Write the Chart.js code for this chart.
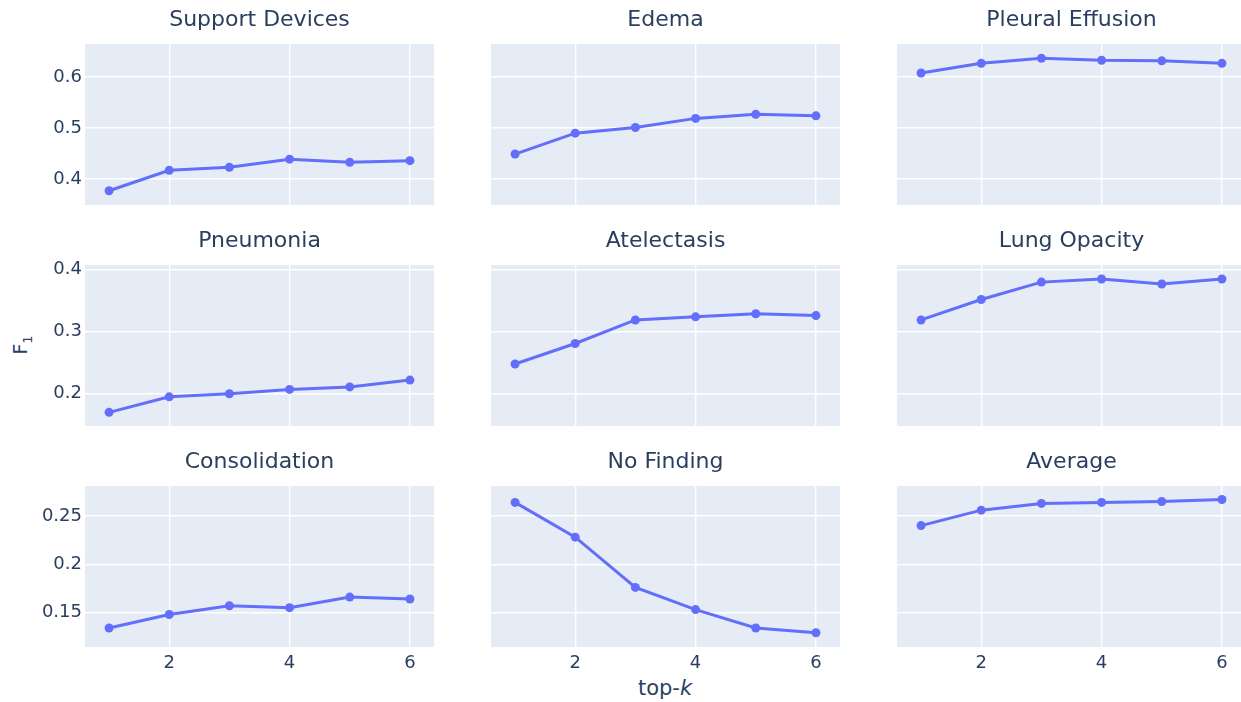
<!DOCTYPE html>
<html>
<head>
<meta charset="utf-8">
<script src="https://cdn.jsdelivr.net/npm/chart.js@4"></script>
<style>
  html, body { margin: 0; padding: 0; background: #fff; overflow: hidden; }
  #wrap { position: relative; width: 1241px; height: 702px; overflow: hidden; font-family: "DejaVu Sans", sans-serif; color: #2a3f5f; }
  #wrap canvas { position: absolute; }
  .axis-title { position: absolute; font-size: 21px; white-space: nowrap; transform: translate(-50%, -50%); }
  #yTitle { font-size: 19px; transform: translate(-50%, -50%) rotate(-90deg); }
  #yTitle sub { font-size: 13px; }
</style>
</head>
<body>
<div id="wrap">
  <div class="axis-title" id="yTitle" style="left:22px; top:345px;">F<sub>1</sub></div>
  <div class="axis-title" id="xTitle" style="left:665px; top:688px;">top-<i>k</i></div>
</div>
<script>
const topK = [1, 2, 3, 4, 5, 6];

const panelTitles = [
    'Support Devices', 'Edema', 'Pleural Effusion',
    'Pneumonia', 'Atelectasis', 'Lung Opacity',
    'Consolidation', 'No Finding', 'Average'
];

const supportDevices = [0.377, 0.417, 0.423, 0.439, 0.433, 0.436];
const edema = [0.449, 0.490, 0.501, 0.519, 0.527, 0.524];
const pleuralEffusion = [0.608, 0.627, 0.637, 0.633, 0.632, 0.627];
const pneumonia = [0.170, 0.195, 0.200, 0.207, 0.211, 0.222];
const atelectasis = [0.248, 0.281, 0.319, 0.324, 0.329, 0.326];
const lungOpacity = [0.319, 0.352, 0.380, 0.385, 0.377, 0.385];
const consolidation = [0.134, 0.148, 0.157, 0.155, 0.166, 0.164];
const noFinding = [0.264, 0.228, 0.176, 0.153, 0.134, 0.129];
const average = [0.240, 0.256, 0.263, 0.264, 0.265, 0.267];

const panelSeries = [
    supportDevices, edema, pleuralEffusion,
    pneumonia, atelectasis, lungOpacity,
    consolidation, noFinding, average
];

// each row shares one y range
const rowRanges = [[0.349, 0.665], [0.148, 0.4076], [0.1143, 0.281]];
const rowSteps = [0.1, 0.1, 0.05];
const xRange = [0.6, 6.4];

// grid geometry (px)
const colLeft = [85, 491, 897];
const rowTop = [44, 265, 486];
const plotW = 349;
const plotH = 161;
const axisW = 85;   // room for y tick labels
const headH = 41;   // subplot title block
const footH = 36;   // x tick labels on the bottom row

const TEXT = '#2a3f5f';
const LINE = '#636efa';
const FONT = '"DejaVu Sans", sans-serif';

// light blue plot background behind the grid
const plotBg = {
    id: 'plotBg',
    beforeDraw(chart) {
        const { ctx, chartArea: a } = chart;
        ctx.save();
        ctx.fillStyle = '#E5ECF6';
        ctx.fillRect(a.left, a.top, a.right - a.left, a.bottom - a.top);
        ctx.restore();
    }
};

// fixed axis size, and no extra room asked for overflowing labels
function fixSize(prop, size) {
    return scale => {
        scale[prop] = size;
        scale.paddingTop = 0;
        scale.paddingBottom = 0;
        scale.paddingLeft = 0;
        scale.paddingRight = 0;
    };
}

const wrap = document.getElementById('wrap');

panelSeries.forEach((series, i) => {
    const row = Math.floor(i / 3);
    const col = i % 3;
    const bottomRow = row === 2;
    const bh = bottomRow ? footH : 0;

    const canvas = document.createElement('canvas');
    const w = axisW + plotW;
    const h = headH + plotH + bh;
    canvas.width = w;
    canvas.height = h;
    canvas.style.width = w + 'px';
    canvas.style.height = h + 'px';
    canvas.style.left = (colLeft[col] - axisW) + 'px';
    canvas.style.top = (rowTop[row] - headH) + 'px';
    wrap.appendChild(canvas);

    new Chart(canvas.getContext('2d'), {
        type: 'line',
        data: {
            datasets: [{
                data: topK.map((k, j) => ({ x: k, y: series[j] })),
                borderColor: LINE,
                backgroundColor: LINE,
                borderWidth: 3,
                pointRadius: 4.5,
                pointHoverRadius: 4.5,
                pointBorderWidth: 0,
                tension: 0
            }]
        },
        options: {
            responsive: false,
            animation: false,
            events: [],
            layout: { padding: 0, autoPadding: false },
            plugins: {
                legend: { display: false },
                tooltip: { enabled: false },
                title: {
                    display: true,
                    text: panelTitles[i],
                    fullSize: false,
                    color: TEXT,
                    font: { family: FONT, size: 22, weight: 'normal', lineHeight: '26px' },
                    padding: { top: 4, bottom: 11 }
                }
            },
            scales: {
                x: {
                    type: 'linear',
                    min: xRange[0],
                    max: xRange[1],
                    ticks: {
                        stepSize: 2,
                        includeBounds: false,
                        display: bottomRow,
                        padding: 6,
                        color: TEXT,
                        font: { family: FONT, size: 18 },
                        callback: v => String(v)
                    },
                    grid: { color: '#ffffff', lineWidth: 1.4, drawTicks: false },
                    border: { display: false },
                    afterFit: fixSize('height', bh)
                },
                y: {
                    min: rowRanges[row][0],
                    max: rowRanges[row][1],
                    ticks: {
                        stepSize: rowSteps[row],
                        includeBounds: false,
                        display: col === 0,
                        padding: 3,
                        color: TEXT,
                        font: { family: FONT, size: 18 },
                        callback: v => String(+v.toFixed(2))
                    },
                    grid: { color: '#ffffff', lineWidth: 1.4, drawTicks: false },
                    border: { display: false },
                    afterFit: fixSize('width', axisW)
                }
            }
        },
        plugins: [plotBg]
    });
});
</script>
</body>
</html>
